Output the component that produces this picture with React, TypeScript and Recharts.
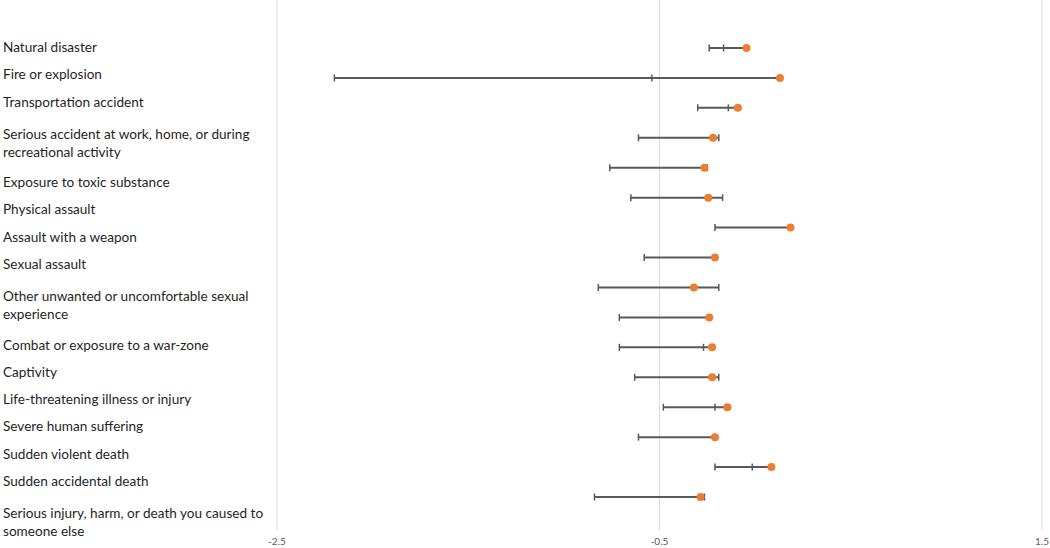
import { Bar, CartesianGrid, ComposedChart, Line, XAxis, YAxis } from "recharts";

const categories = [
  "Natural disaster",
  "Fire or explosion",
  "Transportation accident",
  "Serious accident at work, home, or during\nrecreational activity",
  "Exposure to toxic substance",
  "Physical assault",
  "Assault with a weapon",
  "Sexual assault",
  "Other unwanted or uncomfortable sexual\nexperience",
  "Combat or exposure to a war-zone",
  "Captivity",
  "Life-threatening illness or injury",
  "Severe human suffering",
  "Sudden violent death",
  "Sudden accidental death",
  "Serious injury, harm, or death you caused to\nsomeone else",
];

// lower end, inner tick / upper end, and point estimate for each row
const lowValues = [-0.24, -2.2, -0.3, -0.61, -0.76, -0.65, -0.21, -0.58, -0.82, -0.71, -0.71, -0.63, -0.48, -0.61, -0.21, -0.84];
const highValues = [-0.165, -0.54, -0.14, -0.19, -0.25, -0.17, 0.185, -0.21, -0.19, -0.23, -0.27, -0.19, -0.21, -0.21, -0.015, -0.265];
const pointValues = [-0.045, 0.13, -0.09, -0.22, -0.265, -0.245, 0.185, -0.21, -0.32, -0.24, -0.225, -0.225, -0.145, -0.21, 0.085, -0.285];

const xTicks = [-2.5, -0.5, 1.5];

const LINE = "#595959";
const ORANGE = "#ED7D31";
const GRID = "#D9D9D9";

const rows = categories.map((name, i) => ({
  name,
  low: lowValues[i],
  high: highValues[i],
  point: pointValues[i],
  span: [lowValues[i], Math.max(highValues[i], pointValues[i])],
}));

const SpanShape = (props: any) => {
  const { x, y, width, height } = props;
  const cy = y + height / 2;
  return <line x1={x} x2={x + width} y1={cy} y2={cy} stroke={LINE} strokeWidth={2} />;
};

const Cap = (props: any) => {
  const { cx, cy, index } = props;
  if (cx == null || cy == null) return <g key={index} />;
  return <line key={index} x1={cx} x2={cx} y1={cy - 3.5} y2={cy + 3.5} stroke={LINE} strokeWidth={1.5} />;
};

const PointDot = (props: any) => {
  const { cx, cy, index } = props;
  if (cx == null || cy == null) return <g key={index} />;
  return <circle key={index} cx={cx} cy={cy} r={4} fill={ORANGE} stroke="none" />;
};

export default function App() {
  return (
    <div style={{ position: "absolute", left: 0, top: 0, width: 1050, height: 548, background: "#fff" }}>
      <div
        style={{
          position: "absolute",
          left: 3,
          top: 33.35,
          width: 272,
          fontFamily: "Lato, 'Open Sans', sans-serif",
          fontSize: 13.6,
          color: "#1f1f1f",
        }}
      >
        {categories.map((c) => {
          const twoLine = c.includes("\n");
          return (
            <div
              key={c}
              style={{
                whiteSpace: "pre-line",
                lineHeight: "18px",
                paddingTop: 4.65,
                paddingBottom: 4.65,
                marginTop: twoLine ? 5 : 0,
                marginBottom: twoLine ? 3 : 0,
              }}
            >
              {c}
            </div>
          );
        })}
      </div>
      <div style={{ position: "absolute", left: 0, top: 0 }}>
        <ComposedChart
          width={1050}
          height={548}
          data={rows}
          layout="vertical"
          margin={{ top: 0, right: 8, bottom: 0, left: 277 }}
        >
          <CartesianGrid horizontal={false} stroke={GRID} />
          <XAxis
            type="number"
            domain={[-2.5, 1.5]}
            ticks={xTicks}
            axisLine={false}
            tickLine={false}
            height={18}
            tick={{ fontSize: 10, fill: "#595959", fontFamily: "Lato, sans-serif" }}
          />
          <YAxis type="category" dataKey="name" hide width={0} padding={{ top: 33, bottom: 18 }} />
          <Bar dataKey="span" shape={SpanShape} isAnimationActive={false} />
          <Line dataKey="low" stroke="none" dot={Cap} activeDot={false} isAnimationActive={false} />
          <Line dataKey="high" stroke="none" dot={Cap} activeDot={false} isAnimationActive={false} />
          <Line dataKey="point" stroke="none" dot={PointDot} activeDot={false} isAnimationActive={false} />
        </ComposedChart>
      </div>
    </div>
  );
}
